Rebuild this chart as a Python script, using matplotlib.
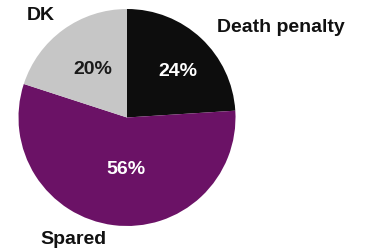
import matplotlib
matplotlib.use("Agg")
import matplotlib.pyplot as plt

categories = ["Death penalty", "Spared", "DK"]
values = [24, 56, 20]
pct_labels = ["24%", "56%", "20%"]
colors = ["#0d0d0d", "#6b1266", "#c6c6c6"]

W, H = 365, 250
fig = plt.figure(figsize=(W / 100, H / 100), dpi=100)
ax = fig.add_axes([0, 0, 1, 1])

cx, cy, r = 127, H - 117.5, 108.5
ax.pie(values, colors=colors, startangle=90, counterclock=False,
       center=(cx, cy), radius=r, frame=True,
       wedgeprops=dict(linewidth=0))
ax.set_xlim(0, W)
ax.set_ylim(0, H)
ax.axis("off")

font = dict(family=["Liberation Sans", "DejaVu Sans"], fontweight="bold", fontsize=14)
# percent labels
pct_pos = [(178, H - 71), (126, H - 170), (93, H - 70)]
pct_col = ["white", "white", "#1a1a1a"]
for t, (x, y), c in zip(pct_labels, pct_pos, pct_col):
    ax.text(x, y, t, ha="center", va="center", color=c, **font)

# category labels
cat_pos = [(281, H - 28), (73, H - 239), (41, H - 15)]
for t, (x, y) in zip(categories, cat_pos):
    ax.text(x, y, t, ha="center", va="center", color="#111111", **font)

fig.savefig("out.png", dpi=100)
